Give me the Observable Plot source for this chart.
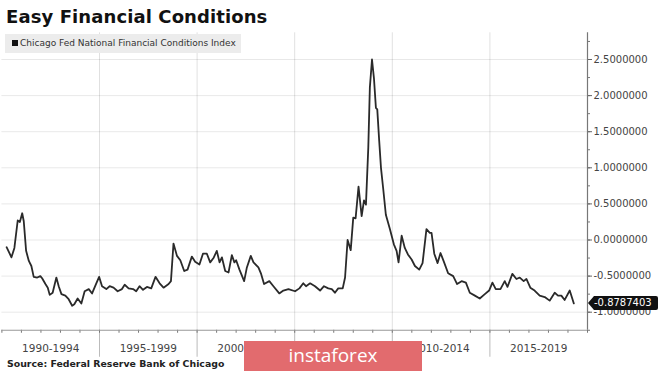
<!DOCTYPE html>
<html>
<head>
<meta charset="utf-8">
<script src="https://cdn.jsdelivr.net/npm/d3@7"></script>
<script src="https://cdn.jsdelivr.net/npm/@observablehq/plot@0.6"></script>
<style>
  html, body { margin: 0; padding: 0; background: #fff; }
  #wrap { position: relative; width: 665px; height: 372px; overflow: hidden; font-family: "DejaVu Sans", sans-serif; }
  #title { position: absolute; left: 6px; top: 6px; font-weight: bold; font-size: 18px; color: #111; white-space: nowrap; letter-spacing: 0.1px; }
  #chart { position: absolute; left: 0; top: 30px; }
  #legend { position: absolute; left: 5px; top: 34px; width: 236px; height: 19px; background: #ececec; font-size: 9px; color: #333; line-height: 19px; white-space: nowrap; }
  #legend .sw { display: inline-block; width: 6px; height: 6px; background: #111; margin: 0 2px 0 7px; vertical-align: 0px; }
  #source { position: absolute; left: 7px; top: 358px; font-size: 9.4px; font-weight: bold; color: #222; white-space: nowrap; }
  #wm { position: absolute; left: 244px; top: 341px; width: 178px; height: 30px; background: #e26b6e; color: #fff; font-family: "Open Sans", sans-serif; font-size: 19px; line-height: 28px; text-align: center; }
</style>
</head>
<body>
<div id="wrap">
  <div id="title">Easy Financial Conditions</div>
  <div id="chart"></div>
  <div id="legend"><span class="sw"></span>Chicago Fed National Financial Conditions Index</div>
  <div id="source">Source: Federal Reserve Bank of Chicago</div>
  <div id="wm">instaforex</div>
</div>
<script>
// Decimal years
const years = [
  1990.24, 1990.49, 1990.64, 1990.81, 1990.92, 1991.04, 1991.12, 1991.24, 1991.38, 1991.51,
  1991.63, 1991.81, 1991.97, 1992.06, 1992.23, 1992.35, 1992.45, 1992.60, 1992.79, 1992.91,
  1993.05, 1993.25, 1993.42, 1993.60, 1993.71, 1993.88, 1994.07, 1994.24, 1994.45, 1994.62,
  1994.82, 1994.98, 1995.13, 1995.35, 1995.52, 1995.72, 1995.93, 1996.15, 1996.29, 1996.49,
  1996.72, 1996.88, 1997.05, 1997.23, 1997.43, 1997.65, 1997.87, 1998.08, 1998.28, 1998.54,
  1998.66, 1998.79, 1998.97, 1999.14, 1999.34, 1999.51, 1999.73, 1999.90, 2000.12, 2000.30,
  2000.50, 2000.67, 2000.84, 2001.01, 2001.15, 2001.27, 2001.44, 2001.61, 2001.78, 2001.91,
  2002.00, 2002.17, 2002.41, 2002.55, 2002.75, 2002.89, 2003.14, 2003.28, 2003.43, 2003.70,
  2003.91, 2004.21, 2004.42, 2004.68, 2005.02, 2005.24, 2005.44, 2005.58, 2005.79, 2006.04,
  2006.30, 2006.50, 2006.72, 2006.90, 2007.06, 2007.23, 2007.46, 2007.58, 2007.71, 2007.87,
  2008.00, 2008.12, 2008.27, 2008.43, 2008.55, 2008.65, 2008.77, 2008.85, 2008.96, 2009.06,
  2009.16, 2009.23, 2009.33, 2009.42, 2009.53, 2009.67, 2009.88, 2010.08, 2010.22, 2010.32,
  2010.48, 2010.64, 2010.80, 2010.99, 2011.16, 2011.38, 2011.55, 2011.75, 2011.92, 2012.01,
  2012.15, 2012.32, 2012.47, 2012.64, 2012.86, 2013.12, 2013.32, 2013.55, 2013.77, 2013.97,
  2014.23, 2014.48, 2014.74, 2014.96, 2015.13, 2015.30, 2015.54, 2015.76, 2015.90, 2016.15,
  2016.36, 2016.53, 2016.73, 2016.87, 2017.07, 2017.29, 2017.55, 2017.81, 2018.06, 2018.32,
  2018.49, 2018.66, 2018.83, 2019.09, 2019.30
];
// Chicago Fed National Financial Conditions Index
const nfciValues = [
  -0.10, -0.24, -0.11, 0.27, 0.25, 0.37, 0.26, -0.15, -0.29, -0.36,
  -0.51, -0.52, -0.50, -0.53, -0.61, -0.66, -0.76, -0.73, -0.52, -0.64,
  -0.75, -0.77, -0.82, -0.91, -0.89, -0.81, -0.88, -0.71, -0.68, -0.74,
  -0.61, -0.51, -0.64, -0.68, -0.64, -0.66, -0.71, -0.68, -0.62, -0.67,
  -0.68, -0.71, -0.64, -0.69, -0.65, -0.67, -0.51, -0.60, -0.66, -0.61,
  -0.57, -0.05, -0.22, -0.28, -0.43, -0.41, -0.23, -0.30, -0.34, -0.19,
  -0.19, -0.31, -0.25, -0.15, -0.31, -0.24, -0.43, -0.45, -0.21, -0.31,
  -0.28, -0.41, -0.57, -0.38, -0.22, -0.31, -0.38, -0.47, -0.61, -0.57,
  -0.64, -0.74, -0.70, -0.68, -0.71, -0.67, -0.60, -0.64, -0.60, -0.64,
  -0.70, -0.64, -0.67, -0.68, -0.73, -0.67, -0.67, -0.52, 0.00, -0.14,
  0.31, 0.30, 0.74, 0.33, 0.55, 0.49, 1.28, 2.11, 2.50, 2.24,
  1.83, 1.81, 1.37, 1.00, 0.72, 0.35, 0.15, -0.06, -0.15, -0.31,
  0.06, -0.11, -0.20, -0.27, -0.36, -0.41, -0.32, 0.15, 0.10, 0.10,
  -0.19, -0.32, -0.18, -0.30, -0.46, -0.50, -0.61, -0.57, -0.59, -0.73,
  -0.77, -0.81, -0.75, -0.70, -0.59, -0.68, -0.68, -0.57, -0.65, -0.47,
  -0.54, -0.52, -0.57, -0.54, -0.66, -0.70, -0.77, -0.79, -0.84, -0.73,
  -0.77, -0.77, -0.83, -0.70, -0.8787403
];
const periodLabels = ["1990-1994", "1995-1999", "2000-2004", "2005-2009", "2010-2014", "2015-2019"];
const periodStarts = [1990, 1995, 2000, 2005, 2010, 2015];
const yTicks = [-1, -0.5, 0, 0.5, 1, 1.5, 2, 2.5];
const lastValue = -0.8787403;
const lastLabel = "-0.8787403";

const data = years.map((x, i) => ({x, y: nfciValues[i]}));
const periodMids = periodStarts.map(d => d + 2.5);
const yearTicks = d3.range(1990, 2021);
const quarterTicks = d3.range(-1.25, 2.76, 0.25);

const chart = Plot.plot({
  width: 665,
  height: 342,
  marginLeft: 1.4,
  marginRight: 78,
  marginTop: 2.3,
  marginBottom: 42.25,
  x: {domain: [1990, 2020], label: null},
  y: {domain: [-1.25, 2.87], label: null},
  style: {fontFamily: "DejaVu Sans, sans-serif", fontSize: "10px", color: "#555", background: "transparent", overflow: "visible"},
  marks: [
    Plot.gridY(yTicks, {stroke: "#000", strokeOpacity: 0.09}),
    Plot.gridX(periodStarts.slice(1), {stroke: "#000", strokeOpacity: 0.12}),
    Plot.axisX(periodStarts.slice(1), {tickSize: 27, stroke: "#bbb", tickFormat: () => "", label: null}),
    Plot.axisX(yearTicks, {tickSize: 3, stroke: "#777", tickFormat: () => "", label: null}),
    Plot.axisX(periodMids, {tickSize: 0, tickPadding: 14, fontSize: 10.5, fill: "#444", label: null,
      tickFormat: d => periodLabels[Math.round((d - 1992.5) / 5)]}),
    Plot.ruleY([-1.25], {stroke: "#999", strokeWidth: 1.2}),
    Plot.ruleX([2020], {stroke: "#777", strokeWidth: 1.2}),
    Plot.axisY(quarterTicks, {anchor: "right", tickSize: 2, stroke: "#777", tickFormat: () => "", label: null}),
    Plot.axisY(yTicks, {anchor: "right", tickSize: 4, tickPadding: 2, stroke: "#666", fill: "#444", fontSize: 10, label: null,
      tickFormat: d => d.toFixed(7)}),
    Plot.line(data, {x: "x", y: "y", stroke: "#2a2a2a", strokeWidth: 1.8})
  ]
});
document.getElementById("chart").appendChild(chart);

// last value tag drawn at the scale position of the last value
const svg = d3.select(chart);
const xs = chart.scale("x"), ys = chart.scale("y");
const ax = xs.apply(2020) + 1;
const ay = ys.apply(lastValue);
const w = 62, h = 14;
const tag = svg.append("g");
tag.append("path")
  .attr("d", `M${ax},${ay} L${ax + 6},${ay - h / 2} L${ax + 6 + w},${ay - h / 2} Q${ax + 8 + w},${ay - h / 2} ${ax + 8 + w},${ay - h / 2 + 2} L${ax + 8 + w},${ay + h / 2 - 2} Q${ax + 8 + w},${ay + h / 2} ${ax + 6 + w},${ay + h / 2} L${ax + 6},${ay + h / 2} Z`)
  .attr("fill", "#111");
tag.append("text")
  .attr("x", ax + 6)
  .attr("y", ay)
  .attr("dy", "0.35em")
  .attr("text-anchor", "start")
  .attr("fill", "#fff")
  .attr("font-size", 10)
  .attr("font-family", "DejaVu Sans, sans-serif")
  .text(lastLabel);
</script>
</body>
</html>
